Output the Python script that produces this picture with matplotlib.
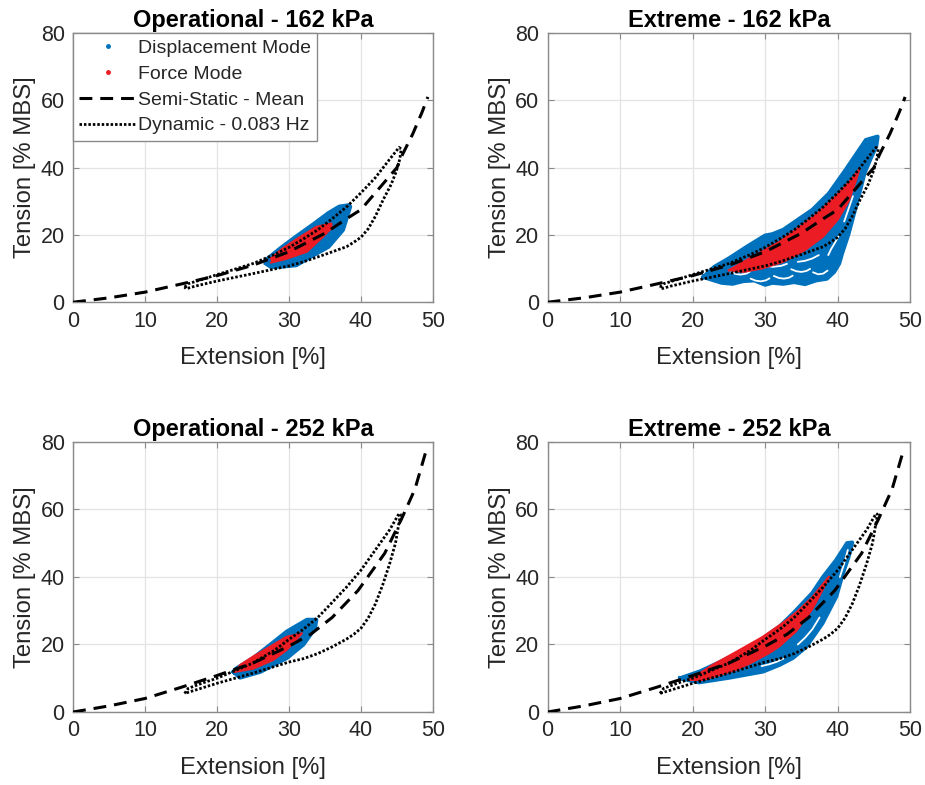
import matplotlib
matplotlib.use('Agg')
import matplotlib.pyplot as plt
from matplotlib.lines import Line2D

plt.rcParams['font.family'] = ['Liberation Sans', 'DejaVu Sans']

# ---------------- data ----------------
titles = ['Operational - 162 kPa', 'Extreme - 162 kPa',
          'Operational - 252 kPa', 'Extreme - 252 kPa']
x_ticks = [0, 10, 20, 30, 40, 50]
y_ticks = [0, 20, 40, 60, 80]
legend_labels = ['Displacement Mode', 'Force Mode',
                 'Semi-Static - Mean', 'Dynamic - 0.083 Hz']

# semi-static mean curves
ss162_x = [0, 5, 10, 15, 20, 25, 30, 35, 38, 40, 42.6, 45, 45.8, 47.2, 48.5, 49.3]
ss162_y = [0, 1.3, 3.0, 5.4, 7.9, 11, 15, 20.5, 24.8, 27.5, 34, 40, 44, 50, 56.5, 61]
ss252_x = [0, 5, 10, 15, 20, 25, 30, 33, 36, 39.6, 43.3, 45.6, 47.5, 49]
ss252_y = [0, 1.8, 4, 7.3, 10.8, 14.5, 19.5, 23, 28, 36, 47, 57, 66, 77]

# dynamic loops (upper branch then lower branch back)
dy162_x = [15.5, 16, 18, 20, 22, 25, 28, 30, 32, 34, 36, 38, 40, 42, 44, 45.3,
           45.6, 45.4, 44.9, 44.2, 43.1, 42, 41, 40, 39, 38, 35, 32, 30, 25, 20, 17, 15.7, 15.5]
dy162_y = [4.5, 5.5, 6.8, 8.2, 9.5, 11.5, 14.2, 16.3, 18.8, 21.5, 24.8, 28.3, 32.5, 37, 42.5, 46,
           45.5, 42.5, 38.8, 35, 30.5, 25.5, 21.8, 19.3, 17.8, 16.5, 14.2, 12, 10.8, 8.5, 6.3, 4.8, 4, 4.5]
dy252_x = [15.5, 16, 18, 20, 22, 25, 28, 30, 32, 34, 35, 38, 40, 42, 44, 45.3,
           45.5, 45.2, 44.8, 44, 43, 42, 41, 40, 39, 38, 36, 34, 32, 30, 25, 20, 17, 15.5]
dy252_y = [5.5, 7, 8.6, 10, 11.8, 14.5, 18.3, 21.5, 24.5, 28, 30.2, 37, 42, 48, 54, 58.8,
           58.5, 55, 50, 44, 37.5, 32, 27.8, 24.8, 23, 21.6, 19.3, 17.3, 15.8, 14.8, 11.5, 8.5, 6.5, 5.5]

# displacement mode (blue) envelopes
b_op162_x = [26.8, 27.5, 29, 31, 33, 35.5, 37.5, 38.5, 38.3, 37, 35.5, 33.3, 31, 28.8, 26.8]
b_op162_y = [11.5, 10.5, 10.6, 11, 13.5, 16.5, 21.5, 28.4, 28.8, 28.4, 26.5, 23, 19.5, 16, 12.5]
b_ex162_x = [21.5, 23, 25, 27.5, 30, 31, 32.5, 35, 36.5, 38.8, 41.1, 43.9, 45.5, 45.3, 44.6,
             43.7, 42.7, 41.5, 40.6, 40.2, 39.5, 38.5, 37, 35.5, 34, 32.5, 31, 30, 28.5, 27,
             25.5, 24, 22.5, 21.5]
b_ex162_y = [7.5, 10.5, 13, 16.5, 19.8, 20.2, 21.5, 25.2, 27.4, 32.3, 39.3, 48.2, 49.2, 46.2, 43,
             38.4, 30, 20.4, 14.5, 11.5, 9, 7, 6.5, 5.4, 6, 5.5, 5.8, 5.2, 6.5, 6.3,
             5.5, 5.8, 6.8, 7.5]
b_op252_x = [22.3, 23.2, 26, 29.7, 32, 33.6, 33.8, 32.5, 29.7, 27.4, 25, 22.7, 22.3]
b_op252_y = [11.9, 10.2, 11.9, 16, 20, 24.8, 27.3, 27.3, 23.8, 19.9, 15.9, 12.9, 11.9]
b_ex252_x = [18.3, 20.9, 25.1, 29.7, 32, 33.8, 35.6, 37.9, 39.8, 40.7, 41.5, 42, 41.3, 39.8,
             38, 36.5, 34, 32, 29.5, 27.4, 24, 21, 18.3]
b_ex252_y = [10, 8.8, 10.2, 12, 14, 16, 19.2, 26.3, 34.2, 41, 46, 50.2, 50, 45,
             40, 35.2, 29.5, 25.3, 21.5, 18.4, 15, 12, 10]

# white gaps between displacement-mode cycles
gap1_ex162_x = [25.3, 25.9, 26.6, 27.4, 27.9]
gap1_ex162_y = [9.0, 8.4, 8.2, 8.5, 9.1]
gap2_ex162_x = [28.0, 28.7, 29.4, 30.1, 30.6]
gap2_ex162_y = [7.0, 6.4, 6.2, 6.5, 7.1]
gap3_ex162_x = [31.2, 31.9, 32.6, 33.3, 33.8]
gap3_ex162_y = [7.8, 7.2, 7.0, 7.3, 7.9]
gap4_ex162_x = [33.6, 34.3, 35.0, 35.7, 36.2]
gap4_ex162_y = [9.8, 9.2, 9.0, 9.3, 9.9]
gap5_ex162_x = [29.8, 31.0, 32.2, 33.0]
gap5_ex162_y = [11.0, 10.5, 10.8, 11.4]
gap6_ex162_x = [36.6, 37.3, 38.0, 38.6]
gap6_ex162_y = [8.9, 8.3, 8.5, 9.4]
gap7_ex162_x = [38.7, 39.1, 39.6, 40.1]
gap7_ex162_y = [14.0, 15.8, 17.6, 19.5]
gap8_ex162_x = [40.9, 41.3, 41.7, 42.1]
gap8_ex162_y = [24.0, 26.5, 29.0, 31.5]
gap9_ex162_x = [34.5, 35.5, 36.5, 37.4]
gap9_ex162_y = [12.0, 12.3, 13.0, 14.0]
gap1_ex252_x = [40.3, 40.9, 41.4]
gap1_ex252_y = [40.0, 44.0, 48.0]
gap2_ex252_x = [34.5, 35.5, 36.5, 37.5]
gap2_ex252_y = [20.0, 22.0, 24.5, 28.0]
gap3_ex252_x = [29.5, 30.5, 31.5, 32.5]
gap3_ex252_y = [13.6, 14.1, 14.8, 15.8]

# force mode (red) regions
r_op162_x = [27.5, 29.5, 32.5, 34.5, 35.9, 35.9, 33.8, 31.1, 29, 27.5]
r_op162_y = [11.8, 12.8, 15, 19, 22, 23.4, 22.4, 18.8, 15.8, 13]
r_ex162_x = [25, 27, 29.5, 32, 34.5, 37, 39.5, 41.5, 43, 42.5, 41.5, 40, 38, 35.5, 32.5,
             29.5, 27, 25]
r_ex162_y = [9.5, 12, 15, 18, 22, 26, 31, 35.5, 39.5, 36, 30, 24.5, 19.5, 15.5, 12,
             10, 9, 9.5]
r_op252_x = [22.5, 25, 27.8, 29.7, 31.8, 29.7, 27.4, 25, 23.2, 22.5]
r_op252_y = [11.9, 12.8, 15.4, 18.4, 23.3, 22.3, 19.4, 16.4, 13.9, 11.9]
r_ex252_x = [19.6, 22.8, 26, 29.7, 32.5, 34.3, 36.5, 38.8, 38, 36.5, 34.3, 32, 30.6, 28,
             26, 23.5, 21.4, 19.6]
r_ex252_y = [9.5, 14, 17.8, 22.3, 26.5, 29.5, 34, 40.1, 36.5, 30.5, 24, 19.5, 17.5, 14.5,
             12.5, 10.8, 9.5, 9.5]

# ---------------- style ----------------
BLUE = '#0072BD'
RED = '#EC1C24'
AX_COL = '#8a8a8a'
TXT = '#262626'

panels = [
    dict(ss=(ss162_x, ss162_y), dy=(dy162_x, dy162_y), blue=(b_op162_x, b_op162_y),
         gaps=[], red=(r_op162_x, r_op162_y)),
    dict(ss=(ss162_x, ss162_y), dy=(dy162_x, dy162_y), blue=(b_ex162_x, b_ex162_y),
         gaps=[(gap1_ex162_x, gap1_ex162_y), (gap2_ex162_x, gap2_ex162_y),
               (gap3_ex162_x, gap3_ex162_y), (gap4_ex162_x, gap4_ex162_y),
               (gap5_ex162_x, gap5_ex162_y), (gap6_ex162_x, gap6_ex162_y),
               (gap7_ex162_x, gap7_ex162_y), (gap8_ex162_x, gap8_ex162_y),
               (gap9_ex162_x, gap9_ex162_y)],
         red=(r_ex162_x, r_ex162_y)),
    dict(ss=(ss252_x, ss252_y), dy=(dy252_x, dy252_y), blue=(b_op252_x, b_op252_y),
         gaps=[], red=(r_op252_x, r_op252_y)),
    dict(ss=(ss252_x, ss252_y), dy=(dy252_x, dy252_y), blue=(b_ex252_x, b_ex252_y),
         gaps=[(gap1_ex252_x, gap1_ex252_y), (gap2_ex252_x, gap2_ex252_y),
               (gap3_ex252_x, gap3_ex252_y)],
         red=(r_ex252_x, r_ex252_y)),
]

positions = [
    [0.079, 0.615, 0.389, 0.343],
    [0.592, 0.615, 0.392, 0.343],
    [0.079, 0.093, 0.389, 0.344],
    [0.592, 0.093, 0.392, 0.344],
]

DASH = (0, (4.2, 2.6))
DOT = (0, (0.9, 0.7))

fig = plt.figure(figsize=(9.25, 7.85), dpi=100)

for i, (p, pos, title) in enumerate(zip(panels, positions, titles)):
    ax = fig.add_axes(pos)
    ax.set_xlim(0, 50)
    ax.set_ylim(0, 80)
    ax.set_xticks(x_ticks)
    ax.set_yticks(y_ticks)
    ax.grid(True, color='#e3e3e3', linewidth=0.9)
    ax.set_axisbelow(True)
    for s in ax.spines.values():
        s.set_color(AX_COL)
        s.set_linewidth(1.0)
    ax.tick_params(direction='in', length=4, width=0.8, color=AX_COL,
                   labelsize=15.5, labelcolor=TXT, top=True, right=True, pad=6)

    bx, by = p['blue']
    ax.fill(bx, by, color=BLUE, lw=0, zorder=2)
    ax.plot(bx, by, color=BLUE, lw=3.0, solid_joinstyle='round', zorder=2)
    for gx, gy in p['gaps']:
        ax.plot(gx, gy, color='white', lw=1.3, solid_capstyle='round',
                solid_joinstyle='round', zorder=2.5)
    rx, ry = p['red']
    ax.fill(rx, ry, color=RED, lw=0, zorder=3)
    ax.plot(rx, ry, color=RED, lw=1.5, zorder=3)

    sx, sy = p['ss']
    ax.plot(sx, sy, color='black', lw=2.2, linestyle=DASH, zorder=4)
    dx, dy = p['dy']
    ax.plot(dx, dy, color='black', lw=2.0, linestyle=DOT, zorder=5)

    ax.set_title(title, fontsize=17, fontweight='bold', color='black', pad=4)
    ax.set_xlabel('Extension [%]', fontsize=17.2, color=TXT, labelpad=11)
    ax.set_ylabel('Tension [% MBS]', fontsize=17.2, color=TXT, labelpad=3)

    if i == 0:
        handles = [
            Line2D([], [], color=BLUE, marker='.', linestyle='none', markersize=5),
            Line2D([], [], color=RED, marker='.', linestyle='none', markersize=5),
            Line2D([], [], color='black', lw=2.2, linestyle=DASH),
            Line2D([], [], color='black', lw=2.0, linestyle=DOT),
        ]
        leg = ax.legend(handles, legend_labels, loc='upper left', fontsize=14,
                        frameon=True, fancybox=False, framealpha=1,
                        edgecolor=AX_COL, borderaxespad=0, handlelength=2.9,
                        handletextpad=0.1, labelspacing=0.42, borderpad=0.33)
        leg.get_frame().set_linewidth(1.0)
        for t in leg.get_texts():
            t.set_color(TXT)

fig.savefig('out.png', dpi=100, facecolor='white')
